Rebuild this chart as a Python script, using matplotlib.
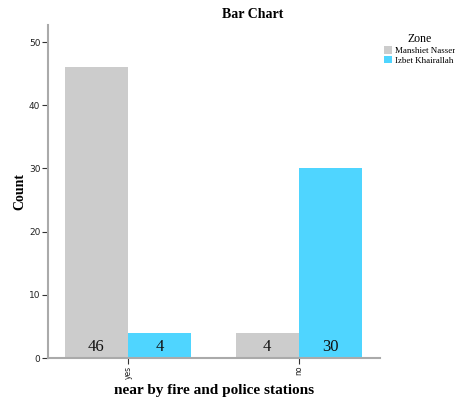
import matplotlib
matplotlib.use("Agg")
import matplotlib.pyplot as plt
import numpy as np

categories = ["yes", "no"]
zones = ["Manshiet Nasser", "Izbet Khairallah"]
manshiet = [46, 4]
izbet = [4, 30]
colors = ["#cccccc", "#4fd5ff"]

fig = plt.figure(figsize=(4.56, 3.99), dpi=100)
ax = fig.add_axes([48/456, 1-358/399, (380-48)/456, (358-25)/399])

x = np.arange(len(categories))
w = 0.371
b1 = ax.bar(x - w/2, manshiet, w, color=colors[0], label=zones[0], linewidth=0)
b2 = ax.bar(x + w/2, izbet, w, color=colors[1], label=zones[1], linewidth=0)

for bars, vals in ((b1, manshiet), (b2, izbet)):
    for rect, v in zip(bars, vals):
        ax.text(rect.get_x() + rect.get_width()/2, 0.4, str(v), ha="center", va="bottom",
                fontsize=12, family="Liberation Serif", color="#111111")

ax.set_xlim(-0.468, 1.474)
ax.set_ylim(0, 52.7)
ax.set_yticks([0, 10, 20, 30, 40, 50])
ax.set_xticks(x)
ax.set_xticklabels(categories, rotation=90, fontsize=5.5, family="DejaVu Sans")
for lab in ax.get_yticklabels():
    lab.set_fontsize(6.5)
    lab.set_family("DejaVu Sans")
ax.tick_params(axis="both", length=4, width=0.8, color="#333333", pad=1.5, labelcolor="#222222")

for s in ("top", "right"):
    ax.spines[s].set_visible(False)
for s in ("left", "bottom"):
    ax.spines[s].set_color("#aaaaaa")
    ax.spines[s].set_linewidth(1.5)

ax.set_xlabel("near by fire and police stations", fontsize=11, fontweight="bold",
              family="Liberation Serif", labelpad=4)
ax.set_ylabel("Count", fontsize=10, fontweight="bold", family="Liberation Serif", labelpad=2)

fig.text(253/456, 1-15/399, "Bar Chart", ha="center", va="center", fontsize=10,
         fontweight="bold", family="Liberation Serif")

leg = fig.legend(handles=[b1, b2], labels=zones, title="Zone", loc="upper left",
                 bbox_to_anchor=(378/456, 1-27/399), frameon=False,
                 prop={"family": "Liberation Serif", "size": 6.5},
                 title_fontproperties={"family": "Liberation Serif", "size": 8.5},
                 handlelength=0.9, handleheight=0.9, handletextpad=0.3,
                 labelspacing=0.1, borderpad=0.2)

fig.savefig("out.png", dpi=100)
